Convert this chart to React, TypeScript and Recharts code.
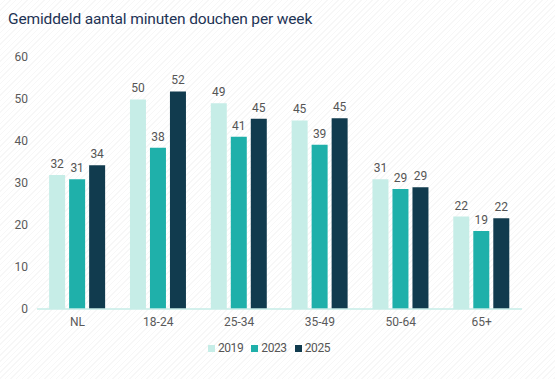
import React from "react";
import { BarChart, Bar, XAxis, YAxis, LabelList, Legend } from "recharts";

const categories = ["NL", "18-24", "25-34", "35-49", "50-64", "65+"];
const values2019 = [31.9, 49.9, 49.0, 44.9, 30.9, 22.0];
const values2023 = [30.9, 38.4, 41.0, 39.1, 28.6, 18.6];
const values2025 = [34.2, 51.8, 45.3, 45.4, 29.0, 21.6];
const yTicks = [0, 10, 20, 30, 40, 50, 60];
const seriesNames = ["2019", "2023", "2025"];

const data = categories.map((c, i) => ({
  name: c,
  "2019": values2019[i],
  "2023": values2023[i],
  "2025": values2025[i],
}));

const colors = ["#c6ede7", "#1fb0aa", "#113b4e"];
const FONT = "Roboto, 'Noto Sans', sans-serif";

const LegendContent = (props: any) => {
  const payload = props.payload || [];
  return (
    <div
      style={{
        display: "flex",
        justifyContent: "center",
        paddingLeft: 24,
        height: 18,
        alignItems: "center",
        fontFamily: FONT,
        overflow: "hidden",
      }}
    >
      {payload.map((p: any) => (
        <div
          key={p.value}
          style={{ display: "flex", alignItems: "center", marginRight: 8 }}
        >
          <div
            style={{ width: 7, height: 7, background: p.color, marginRight: 3 }}
          />
          <span style={{ color: "#555", fontSize: 12, letterSpacing: -0.4, lineHeight: "14px" }}>
            {p.value}
          </span>
        </div>
      ))}
    </div>
  );
};

export default function App() {
  return (
    <div
      style={{
        position: "absolute",
        left: 0,
        top: 0,
        width: 555,
        height: 379,
        fontFamily: FONT,
        background:
          "repeating-linear-gradient(135deg, #ffffff 0px, #ffffff 3px, #f7f7f7 3px, #f7f7f7 4px)",
      }}
    >
      <div
        style={{
          position: "absolute",
          left: 8,
          top: 10,
          fontSize: 15.5,
          letterSpacing: -0.15,
          color: "#1e3355",
          whiteSpace: "nowrap",
        }}
      >
        Gemiddeld aantal minuten douchen per week
      </div>
      <BarChart
        width={555}
        height={379}
        data={data}
        margin={{ top: 57, right: 33, bottom: 22, left: 0 }}
        barCategoryGap="15%"
        barGap={4}
      >
        <YAxis
          width={37}
          domain={[0, 60]}
          ticks={yTicks}
          axisLine={false}
          tickLine={false}
          tickMargin={3}
          tick={{ fill: "#5a5a5a", fontSize: 12, fontFamily: FONT }}
        />
        <XAxis
          dataKey="name"
          axisLine={{ stroke: "#c6ede7", strokeWidth: 1.5 }}
          tickLine={false}
          tick={{ fill: "#5a5a5a", fontSize: 12, fontFamily: FONT }}
        />
        <Legend verticalAlign="bottom" content={<LegendContent />} />
        {seriesNames.map((s, i) => (
          <Bar key={s} dataKey={s} fill={colors[i]} isAnimationActive={false}>
            <LabelList
              dataKey={s}
              position="top"
              offset={7}
              formatter={(v: number) => Math.round(v)}
              style={{ fill: "#555", fontSize: 12, fontFamily: FONT }}
            />
          </Bar>
        ))}
      </BarChart>
    </div>
  );
}
